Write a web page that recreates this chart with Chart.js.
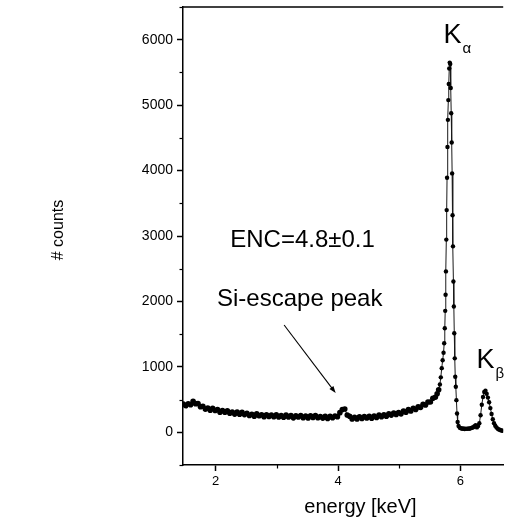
<!DOCTYPE html>
<html><head><meta charset="utf-8">
<script src="https://cdn.jsdelivr.net/npm/chart.js@4.4.1/dist/chart.umd.min.js"></script>
<style>html,body{margin:0;padding:0;background:#fff;}canvas{display:block;}</style>
</head><body>
<canvas id="c" width="506" height="522"></canvas>
<script>
// ---- data (energy in keV, counts) ----
const energy = [
 1.47,1.51,1.55,1.59,1.63,1.67,1.71,1.75,1.79,1.83,
 1.87,1.91,1.95,1.99,2.03,2.07,2.11,2.15,2.19,2.23,
 2.27,2.31,2.35,2.39,2.43,2.47,2.51,2.55,2.59,2.63,
 2.67,2.71,2.75,2.79,2.83,2.87,2.91,2.95,2.99,3.03,
 3.07,3.11,3.15,3.19,3.23,3.27,3.31,3.35,3.39,3.43,
 3.47,3.51,3.55,3.59,3.63,3.67,3.71,3.75,3.79,3.83,
 3.87,3.91,3.95,3.99,4.03,4.07,4.11,4.15,4.19,4.23,
 4.27,4.31,4.35,4.39,4.43,4.47,4.51,4.55,4.59,4.63,
 4.67,4.71,4.75,4.79,4.83,4.87,4.91,4.95,4.99,5.03,
 5.07,5.11,5.15,5.19,5.23,5.27,5.31,5.35,5.39,5.43,
 5.47,5.51,5.55,5.59,
 5.62,5.645,5.665,5.68,5.695,5.71,5.725,5.735,5.745,5.752,
 5.758,5.764,5.770,5.776,5.782,5.789,5.796,5.803,5.810,5.818,
 5.826,5.834,5.842,5.850,5.858,5.865,5.872,5.879,5.886,5.893,
 5.900,5.908,5.916,5.925,5.935,5.945,5.955,5.97,5.99,
 6.01,6.03,6.05,6.07,6.09,6.11,6.13,6.15,6.17,6.19,6.21,6.23,6.25,
 6.27,6.29,6.31,6.33,6.35,6.37,6.39,6.41,6.43,6.45,
 6.47,6.49,6.51,6.53,6.55,6.57,6.59,6.61,6.63,6.65,6.67,6.69
];
const counts = [
 432,406,436,420,475,438,440,392,399,354,
 372,338,367,334,348,308,334,306,329,292,
 309,278,308,276,304,270,290,256,275,246,
 281,252,269,237,269,242,262,238,269,235,
 256,229,262,235,256,221,252,234,257,224,
 248,219,252,226,255,222,242,217,246,212,
 243,223,248,239,300,347,355,265,244,204,
 228,204,238,210,240,219,244,215,247,225,
 265,239,266,245,283,263,294,273,302,282,
 323,308,346,327,367,350,388,381,428,418,
 464,463,521,535,
 590,650,730,840,980,1100,1216,1360,1590,1856,
 2101,2459,2945,3396,3891,4360,4775,5077,5322,5560,
 5650,5630,5261,4877,4428,3957,3317,2842,2305,1922,
 1514,1130,848,695,491,287,158,95,70,
 62,55,58,50,56,52,60,55,63,70,78,92,110,
 75,95,140,260,420,540,615,635,590,530,
 460,370,280,200,140,100,75,55,42,34,28,24
];
const xMajorTicks = [2, 4, 6];
const xMinorTicks = [3, 5];
const yMajorTicks = [0, 1000, 2000, 3000, 4000, 5000, 6000];
const yMinorTicks = [-500, 500, 1500, 2500, 3500, 4500, 5500, 6500];
const xAxisTitle = 'energy [keV]';
const yAxisTitle = '# counts';
const textNotes = [
 {text: 'ENC=4.8±0.1', x: 2.238, y: 2832},
 {text: 'Si-escape peak', x: 2.021, y: 1930}
];
const peakNotes = [
 {main: 'K', sub: 'α', x: 5.725, y: 5950},
 {main: 'K', sub: 'β', x: 6.262, y: 983}
];
const arrowNote = {from: [3.118, 1640], to: [3.961, 600]};

// ---- drawing ----
const FONT = '"Liberation Sans", Arial, Helvetica, sans-serif';
const X_MIN = 1.465, X_MAX = 6.70, Y_MIN = -500, Y_MAX = 6500;

const deco = {
 id: 'deco',
 afterDraw(chart) {
  const {ctx, chartArea: a, scales: {x, y}} = chart;
  ctx.save();
  ctx.strokeStyle = '#000';
  ctx.fillStyle = '#000';
  ctx.lineWidth = 1.5;
  ctx.beginPath(); ctx.moveTo(a.left, a.top); ctx.lineTo(a.right, a.top); ctx.stroke();
  ctx.lineWidth = 1.2;
  xMinorTicks.forEach(v => {
   const px = Math.round(x.getPixelForValue(v)) + 0.5;
   ctx.beginPath(); ctx.moveTo(px, a.bottom); ctx.lineTo(px, a.bottom + 3.5); ctx.stroke();
  });
  yMinorTicks.forEach(v => {
   const py = Math.round(y.getPixelForValue(v)) + 0.5;
   ctx.beginPath(); ctx.moveTo(a.left - 3.5, py); ctx.lineTo(a.left, py); ctx.stroke();
  });
  ctx.textBaseline = 'alphabetic';
  ctx.textAlign = 'left';
  ctx.font = '24px ' + FONT;
  textNotes.forEach(n => ctx.fillText(n.text, x.getPixelForValue(n.x), y.getPixelForValue(n.y)));
  peakNotes.forEach(n => {
   const px = x.getPixelForValue(n.x), py = y.getPixelForValue(n.y);
   ctx.font = '27px ' + FONT;
   ctx.fillText(n.main, px, py);
   const w = ctx.measureText(n.main).width;
   ctx.font = '15px ' + FONT;
   ctx.fillText(n.sub, px + w + 1, py + 10);
  });
  const x1 = x.getPixelForValue(arrowNote.from[0]), y1 = y.getPixelForValue(arrowNote.from[1]);
  const x2 = x.getPixelForValue(arrowNote.to[0]), y2 = y.getPixelForValue(arrowNote.to[1]);
  const ang = Math.atan2(y2 - y1, x2 - x1);
  ctx.lineWidth = 1.1;
  ctx.beginPath(); ctx.moveTo(x1, y1); ctx.lineTo(x2 - 4 * Math.cos(ang), y2 - 4 * Math.sin(ang)); ctx.stroke();
  ctx.beginPath();
  ctx.moveTo(x2, y2);
  ctx.lineTo(x2 - 7 * Math.cos(ang) + 2.5 * Math.sin(ang), y2 - 7 * Math.sin(ang) - 2.5 * Math.cos(ang));
  ctx.lineTo(x2 - 7 * Math.cos(ang) - 2.5 * Math.sin(ang), y2 - 7 * Math.sin(ang) + 2.5 * Math.cos(ang));
  ctx.closePath(); ctx.fill();
  ctx.font = '20px ' + FONT;
  ctx.textAlign = 'center';
  ctx.fillText(xAxisTitle, 360.5, 513);
  ctx.save();
  ctx.translate(63, 230);
  ctx.rotate(-Math.PI / 2);
  ctx.font = '16px ' + FONT;
  ctx.fillText(yAxisTitle, 0, 0);
  ctx.restore();
  ctx.restore();
 }
};

new Chart(document.getElementById('c'), {
 type: 'line',
 data: {
  datasets: [{
   data: energy.map((e, i) => ({x: e, y: counts[i]})),
   borderColor: '#1a1a1a',
   borderWidth: 1,
   pointRadius: c => (c.raw && c.raw.y < 700 && c.raw.x < 5.7) ? 2.8 : 2.2,
   pointBackgroundColor: '#000',
   pointBorderWidth: 0,
   pointHoverRadius: 2.2,
   tension: 0
  }]
 },
 options: {
  responsive: false,
  animation: false,
  devicePixelRatio: 1,
  layout: {padding: {left: 0, right: 0, top: 7, bottom: 0}},
  plugins: {legend: {display: false}, tooltip: {enabled: false}},
  scales: {
   x: {
    type: 'linear', min: X_MIN, max: X_MAX,
    afterBuildTicks: s => { s.ticks = xMajorTicks.map(v => ({value: v})); },
    afterFit: s => { s.height = 57; s.paddingLeft = 0; s.paddingRight = 0; },
    ticks: {autoSkip: false, maxRotation: 0, padding: 3, color: '#000', font: {family: FONT, size: 13}, callback: v => String(v)},
    grid: {drawOnChartArea: false, drawTicks: true, tickLength: 6, tickWidth: 1.5, tickColor: '#000'},
    border: {display: true, color: '#000', width: 1.5}
   },
   y: {
    type: 'linear', min: Y_MIN, max: Y_MAX,
    afterBuildTicks: s => { s.ticks = yMajorTicks.map(v => ({value: v})); },
    afterFit: s => { s.width = 183; s.paddingTop = 0; s.paddingBottom = 0; },
    ticks: {autoSkip: false, padding: 4, color: '#000', font: {family: FONT, size: 14}, callback: v => String(v)},
    grid: {drawOnChartArea: false, drawTicks: true, tickLength: 6, tickWidth: 1.5, tickColor: '#000'},
    border: {display: true, color: '#000', width: 1.5}
   }
  }
 },
 plugins: [deco]
});
</script>
</body></html>
